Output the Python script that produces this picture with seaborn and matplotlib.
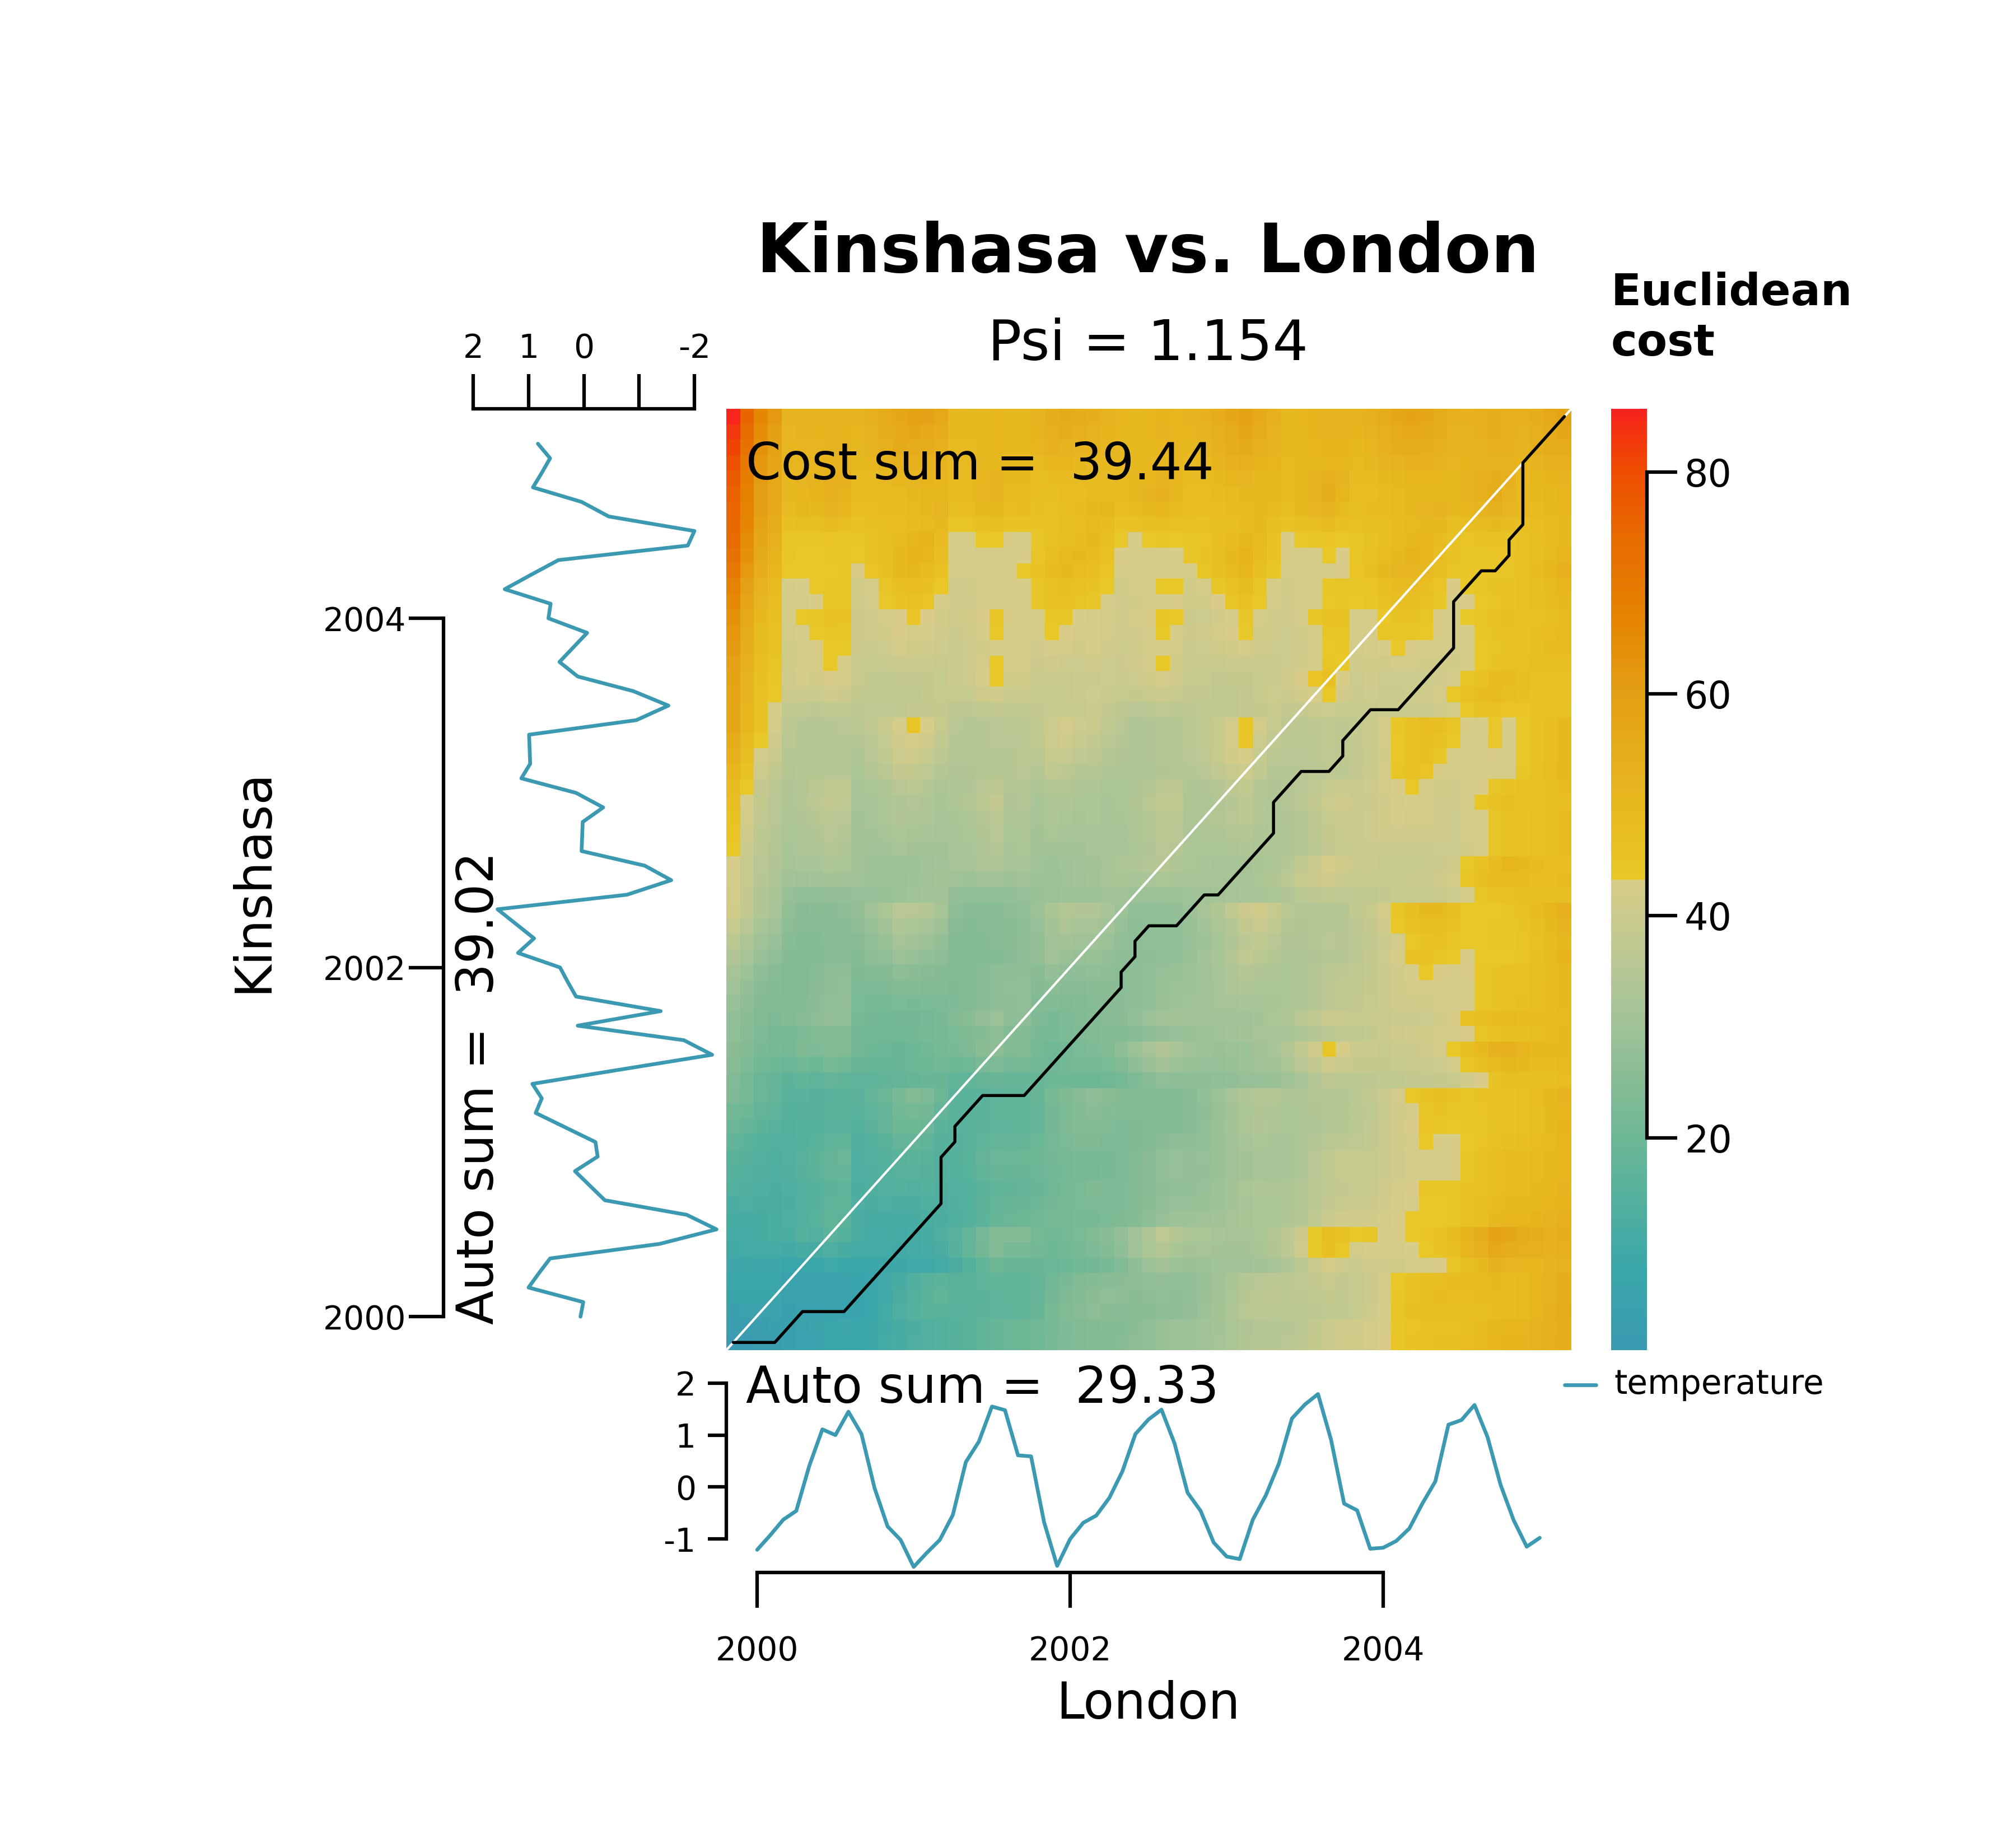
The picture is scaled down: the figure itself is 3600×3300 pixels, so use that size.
import numpy as np
import pandas as pd
import matplotlib
matplotlib.use("Agg")
import matplotlib.pyplot as plt
import seaborn as sns
from matplotlib.colors import LinearSegmentedColormap
from matplotlib.lines import Line2D

# ---------------- data ----------------
london = [-1.21, -0.93, -0.63, -0.46, 0.41, 1.11, 1.00, 1.45, 1.02, -0.02,
          -0.76, -1.02, -1.54, -1.27, -1.02, -0.54, 0.48, 0.875, 1.55, 1.48,
          0.61, 0.59, -0.68, -1.52, -1.00, -0.69, -0.55, -0.21, 0.30, 1.02,
          1.30, 1.49, 0.84, -0.11, -0.46, -1.07, -1.34, -1.39, -0.63, -0.16,
          0.45, 1.32, 1.59, 1.79, 0.91, -0.32, -0.45, -1.19, -1.17, -1.04,
          -0.80, -0.32, 0.11, 1.20, 1.29, 1.58, 0.96, 0.04, -0.64, -1.15, -0.98]
kinshasa = [0.06, 0.01, 1.00, 0.81, 0.61, -1.37, -2.40, -1.86, -0.38, -0.11,
            0.16, -0.25, -0.21, 0.33, 0.87, 0.76, 0.93, -0.69, -2.32, -1.81,
            0.11, -1.39, 0.14, 0.29, 0.43, 1.19, 0.90, 1.23, 1.56, -0.78,
            -1.58, -1.10, 0.04, 0.03, 0.02, -0.35, 0.14, 1.13, 0.97, 0.98,
            0.99, -0.95, -1.53, -0.89, 0.11, 0.44, 0.19, -0.06, 0.64, 0.60,
            1.43, 0.95, 0.46, -1.88, -2.00, -0.45, 0.04, 0.92, 0.76, 0.61, 0.83]
# warping path vertices (London index, Kinshasa index)
path_london_idx = [0, 3, 5, 8, 15, 15, 16, 16, 18, 21, 28, 28, 29, 29, 30, 32, 34, 35,
                   39, 39, 41, 43, 44, 44, 46, 48, 52, 52, 54, 55, 56, 56, 57, 57, 60]
path_kinshasa_idx = [0, 0, 2, 2, 9, 12, 13, 14, 16, 16, 23, 24, 25, 26, 27, 27, 29, 29,
                     33, 35, 37, 37, 38, 39, 41, 41, 45, 48, 50, 50, 51, 52, 53, 57, 60]
start_year = 2000
year_ticks = [2000, 2002, 2004]
london_value_ticks = [-1, 0, 1, 2]
kinshasa_value_ticks = [2, 1, 0, -1, -2]
kinshasa_value_labels = ["2", "1", "0", "", "-2"]
cbar_ticks = [20, 40, 60, 80]
cost_range = (0.85, 85.7)
psi = 1.154
cost_sum = 39.44
auto_sum_london = 29.33
auto_sum_kinshasa = 39.02

times = start_year + np.arange(len(london)) / 12.0

# ---------------- accumulated Euclidean cost matrix ----------------
x = np.asarray(london)
y = np.asarray(kinshasa)
C = np.abs(x[:, None] - y[None, :])
n, m = C.shape
D = np.zeros((n, m))
for i in range(n):
    for j in range(m):
        if i == 0 and j == 0:
            D[i, j] = C[i, j]
        elif i == 0:
            D[i, j] = D[i, j-1] + C[i, j]
        elif j == 0:
            D[i, j] = D[i-1, j] + C[i, j]
        else:
            D[i, j] = C[i, j] + min(D[i-1, j], D[i, j-1])

# ---------------- styling ----------------
sns.set_theme(style="white")
plt.rcParams["font.family"] = ["DejaVu Sans"]
plt.rcParams["axes.unicode_minus"] = False
for k in ["text.color", "axes.labelcolor", "xtick.color", "ytick.color"]:
    plt.rcParams[k] = "black"
line_col = "#3B9AB2"

cmap = LinearSegmentedColormap.from_list("zissou_split", [
    (0.000, "#3a9ab2"), (0.084, "#3aa6aa"), (0.155, "#52b09e"), (0.226, "#6db795"),
    (0.285, "#87bc95"), (0.350, "#a2c397"), (0.418, "#bbc892"), (0.472, "#cfcb8a"),
    (0.4999, "#d8cc88"), (0.5001, "#e8c828"), (0.579, "#e7b820"), (0.697, "#e4a014"),
    (0.785, "#e68200"), (0.866, "#e86a00"), (0.933, "#ee4e00"), (0.980, "#f43010"),
    (1.000, "#f82020")], N=512)

W, H = 3600.0, 3300.0
def rect(x0, y0, x1, y1):
    return [x0 / W, 1 - y1 / H, (x1 - x0) / W, (y1 - y0) / H]

fig = plt.figure(figsize=(12, 11), dpi=300)
fig.patch.set_facecolor("white")

ax = fig.add_axes(rect(1297, 730, 2806, 2411))
cax = fig.add_axes(rect(2877, 730, 2941, 2411))

df = pd.DataFrame(D.T)
sns.heatmap(df, ax=ax, cmap=cmap, cbar_ax=cax, xticklabels=False, yticklabels=False,
            vmin=cost_range[0], vmax=cost_range[1])
ax.invert_yaxis()
ax.set_xlim(0, n); ax.set_ylim(0, m)
ax.set_xlabel(""); ax.set_ylabel("")
ax.plot([0, n], [0, m], color="white", lw=1.0, solid_capstyle="butt")
ax.plot(np.asarray(path_london_idx) + 0.5, np.asarray(path_kinshasa_idx) + 0.5,
        color="black", lw=1.3)
for sp in ax.spines.values():
    sp.set_visible(False)

cbar = ax.collections[0].colorbar
cbar.outline.set_visible(False)
cbar.set_ticks(cbar_ticks)
cbar.set_ticklabels([str(t) for t in cbar_ticks])
cax.spines["right"].set_visible(True)
cax.spines["right"].set_bounds(cbar_ticks[0], cbar_ticks[-1])
cax.spines["right"].set_linewidth(1.5)
cax.spines["right"].set_color("black")
cax.tick_params(axis="y", right=True, direction="out", length=13, width=1.5,
                pad=3, labelsize=16, colors="black")

# ---------------- Kinshasa (left, vertical) ----------------
axL = fig.add_axes(rect(792, 730, 1297, 2411))
axL.set_facecolor("none")
sns.lineplot(x=kinshasa, y=times, ax=axL, sort=False, estimator=None, orient="y",
             color=line_col, lw=1.6)
axL.set_xlim(2.537, -2.577)
axL.set_ylim(1999.808, 2005.2)
for k in ["right", "bottom"]:
    axL.spines[k].set_visible(False)
axL.spines["left"].set_bounds(year_ticks[0], year_ticks[-1])
axL.spines["top"].set_bounds(-2, 2)
for k in ["left", "top"]:
    axL.spines[k].set_linewidth(1.5); axL.spines[k].set_color("black")
axL.xaxis.set_ticks_position("top")
axL.set_xticks(kinshasa_value_ticks)
axL.set_xticklabels(kinshasa_value_labels)
axL.set_yticks(year_ticks)
axL.set_yticklabels([str(t) for t in year_ticks])
axL.tick_params(axis="x", top=True, bottom=False, direction="out", length=15, width=1.5,
                pad=4, labelsize=14, colors="black")
axL.tick_params(axis="y", left=True, direction="out", length=15, width=1.5,
                pad=1, labelsize=14, colors="black")
axL.set_xlabel(""); axL.set_ylabel("")

# ---------------- London (bottom) ----------------
axB = fig.add_axes(rect(1297, 2411, 2806, 2808))
axB.set_facecolor("none")
sns.lineplot(x=times, y=london, ax=axB, sort=False, estimator=None,
             color=line_col, lw=1.6)
axB.set_xlim(1999.803, 2005.202)
axB.set_ylim(-1.647, 2.636)
for k in ["right", "top"]:
    axB.spines[k].set_visible(False)
axB.spines["left"].set_bounds(london_value_ticks[0], london_value_ticks[-1])
axB.spines["bottom"].set_bounds(year_ticks[0], year_ticks[-1])
for k in ["left", "bottom"]:
    axB.spines[k].set_linewidth(1.5); axB.spines[k].set_color("black")
axB.set_yticks(london_value_ticks)
axB.set_yticklabels([str(t) for t in london_value_ticks])
axB.set_xticks(year_ticks)
axB.set_xticklabels([str(t) for t in year_ticks])
axB.tick_params(axis="y", left=True, direction="out", length=8, width=1.5,
                pad=5, labelsize=14, colors="black")
axB.tick_params(axis="x", bottom=True, direction="out", length=15, width=1.5,
                pad=12, labelsize=14, colors="black")
axB.set_xlabel(""); axB.set_ylabel("")

# ---------------- texts ----------------
fig.text(2050 / W, 1 - 452 / H, "Kinshasa vs. London", ha="center", va="center",
         fontsize=29, fontweight="bold", color="black")
fig.text(2050 / W, 1 - 615 / H, f"Psi = {psi:.3f}", ha="center", va="center",
         fontsize=24, color="black")
fig.text(2877 / W, 1 - 568 / H, "Euclidean\ncost", ha="left", va="center",
         fontsize=19, fontweight="bold", linespacing=1.25, color="black")
fig.text(1332 / W, 1 - 831 / H, f"Cost sum =  {cost_sum:.2f}", ha="left", va="center",
         fontsize=21.5, color="black")
fig.text(1332 / W, 1 - 2480 / H, f"Auto sum =  {auto_sum_london:.2f}", ha="left",
         va="center", fontsize=21.5, color="black")
fig.text(856 / W, 1 - 2365 / H, f"Auto sum =  {auto_sum_kinshasa:.2f}", ha="center",
         va="bottom", rotation=90, fontsize=21.5, color="black")
fig.text(452 / W, 1 - 1573 / H, "Kinshasa", ha="center", va="center", rotation=90,
         fontsize=21.5, color="black")
fig.text(2050 / W, 1 - 3044 / H, "London", ha="center", va="center", fontsize=21.5,
         color="black")

fig.add_artist(Line2D([2794 / W, 2850 / W], [1 - 2473 / H, 1 - 2473 / H],
                      color=line_col, lw=1.6))
fig.text(2882 / W, 1 - 2473 / H, "temperature", ha="left", va="center", fontsize=14.3,
         color="black")

fig.savefig("out.png", dpi=300, facecolor="white")
